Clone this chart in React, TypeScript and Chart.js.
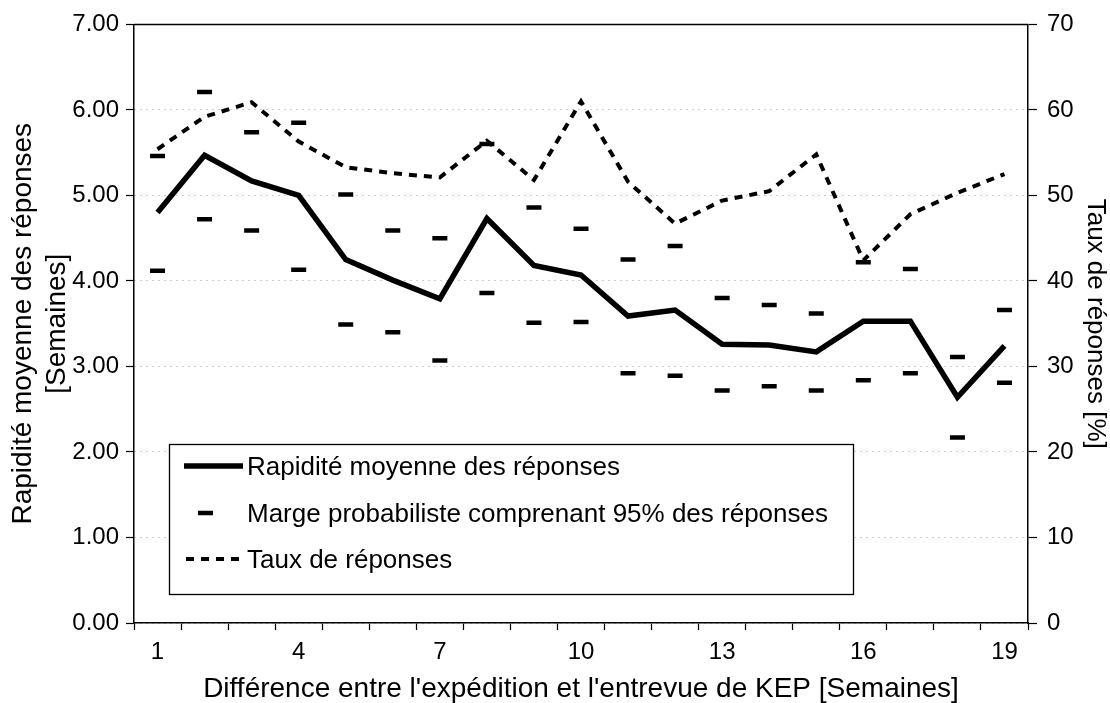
import { useEffect, useRef } from 'react';
import { Chart, registerables } from 'chart.js';

Chart.register(...registerables);

const FONT = "'Liberation Sans', Arial, Helvetica, sans-serif";

const CATEGORIES = ['1', '2', '3', '4', '5', '6', '7', '8', '9', '10', '11', '12', '13', '14', '15', '16', '17', '18', '19'];
const SPEED = [4.8, 5.47, 5.17, 5.0, 4.25, 4.01, 3.79, 4.73, 4.18, 4.07, 3.59, 3.66, 3.26, 3.25, 3.17, 3.53, 3.53, 2.64, 3.24];
const UPPER = [5.46, 6.21, 5.74, 5.85, 5.01, 4.59, 4.5, 5.6, 4.86, 4.61, 4.25, 4.41, 3.8, 3.72, 3.62, 4.22, 4.14, 3.11, 3.66];
const LOWER = [4.12, 4.72, 4.59, 4.13, 3.49, 3.4, 3.07, 3.86, 3.51, 3.52, 2.92, 2.89, 2.72, 2.77, 2.72, 2.84, 2.92, 2.17, 2.81];
const RATE = [55.4, 59.2, 60.9, 56.3, 53.3, 52.6, 52.1, 56.4, 51.8, 61.0, 51.6, 46.7, 49.4, 50.5, 54.8, 42.4, 47.8, 50.3, 52.5];

const LEGEND_LABELS = [
  'Rapidité moyenne des réponses',
  'Marge probabiliste comprenant 95% des réponses',
  'Taux de réponses',
];
const Y_TITLE = ['Rapidité moyenne des réponses', '[Semaines]'];
const Y2_TITLE = 'Taux de réponses [%]';
const X_TITLE = "Différence entre l'expédition et l'entrevue de KEP [Semaines]";

const boxLegend = {
  id: 'boxLegend',
  afterDatasetsDraw(chart: any) {
    const { ctx, chartArea } = chart;
    ctx.save();
    // top frame line
    ctx.strokeStyle = '#000';
    ctx.lineWidth = 1.5;
    ctx.beginPath();
    ctx.moveTo(chartArea.left, chartArea.top);
    ctx.lineTo(chartArea.right, chartArea.top);
    ctx.stroke();

    const bx = 169, by = 444, bw = 684, bh = 150;
    ctx.fillStyle = '#fff';
    ctx.fillRect(bx, by, bw, bh);
    ctx.lineWidth = 1.3;
    ctx.strokeStyle = '#000';
    ctx.strokeRect(bx + 0.5, by + 0.5, bw, bh);

    const rows = [466, 513, 559];
    const sx1 = 184, sx2 = 243;
    // solid
    ctx.setLineDash([]);
    ctx.lineWidth = 5.5;
    ctx.beginPath();
    ctx.moveTo(sx1, rows[0]);
    ctx.lineTo(sx2, rows[0]);
    ctx.stroke();
    // marker
    ctx.lineWidth = 4.5;
    ctx.beginPath();
    ctx.moveTo(198, rows[1]);
    ctx.lineTo(213, rows[1]);
    ctx.stroke();
    // dashed
    ctx.lineWidth = 4;
    ctx.setLineDash([8, 7]);
    ctx.beginPath();
    ctx.moveTo(186, rows[2]);
    ctx.lineTo(241, rows[2]);
    ctx.stroke();
    ctx.setLineDash([]);

    ctx.fillStyle = '#000';
    ctx.font = `26px ${FONT}`;
    ctx.textBaseline = 'middle';
    ctx.textAlign = 'left';
    LEGEND_LABELS.forEach((t, i) => ctx.fillText(t, 247, rows[i] + 2));
    ctx.restore();
  },
};

export default function App() {
  const ref = useRef<HTMLCanvasElement | null>(null);

  useEffect(() => {
    if (!ref.current) return;
    const chart = new Chart(ref.current, {
      type: 'line',
      data: {
        labels: CATEGORIES,
        datasets: [
          {
            label: LEGEND_LABELS[0],
            data: SPEED,
            borderColor: '#000',
            borderWidth: 5.5,
            pointRadius: 0,
            tension: 0,
            yAxisID: 'y',
          },
          {
            label: LEGEND_LABELS[1],
            data: UPPER,
            showLine: false,
            pointStyle: 'line',
            pointRadius: 7.5,
            pointBorderWidth: 4.5,
            borderColor: '#000',
            backgroundColor: '#000',
            yAxisID: 'y',
          },
          {
            label: LEGEND_LABELS[1] + ' (inf.)',
            data: LOWER,
            showLine: false,
            pointStyle: 'line',
            pointRadius: 7.5,
            pointBorderWidth: 4.5,
            borderColor: '#000',
            backgroundColor: '#000',
            yAxisID: 'y',
          },
          {
            label: LEGEND_LABELS[2],
            data: RATE,
            borderColor: '#000',
            borderWidth: 4,
            borderDash: [8, 7],
            pointRadius: 0,
            tension: 0,
            yAxisID: 'y2',
          },
        ],
      },
      options: {
        responsive: false,
        animation: false,
        layout: { padding: { top: 21, left: 0, right: 0, bottom: 0 } },
        plugins: {
          legend: { display: false },
          tooltip: { enabled: false },
        },
        scales: {
          x: {
            type: 'category',
            offset: true,
            afterFit(s: any) { s.height = 80; },
            grid: { drawOnChartArea: false, offset: true, tickLength: 7, tickColor: '#000', tickWidth: 1.2 },
            border: { display: true, color: '#000', width: 1.5 },
            ticks: {
              autoSkip: false,
              maxRotation: 0,
              padding: 8,
              color: '#000',
              font: { family: FONT, size: 24 },
              callback(_v: any, i: number) { return i % 3 === 0 ? CATEGORIES[i] : ''; },
            },
            title: {
              display: true,
              text: X_TITLE,
              color: '#000',
              font: { family: FONT, size: 28, lineHeight: 1 },
              padding: { top: 0, bottom: 0 },
            },
          },
          y: {
            position: 'left',
            min: 0,
            max: 7,
            afterFit(s: any) { s.width = 134; },
            grid: { color: '#9a9a9a', lineWidth: 1, tickLength: 8, tickColor: '#000', tickBorderDash: [], tickWidth: 1.2 },
            border: { display: true, color: '#000', width: 1.5, dash: [1, 5] },
            ticks: {
              stepSize: 1,
              padding: 7,
              color: '#000',
              font: { family: FONT, size: 24 },
              callback(v: any) { return Number(v).toFixed(2); },
            },
            title: {
              display: true,
              text: Y_TITLE,
              color: '#000',
              font: { family: FONT, size: 28, lineHeight: 1.22 },
              padding: { top: 6, bottom: 0 },
            },
          },
          y2: {
            position: 'right',
            min: 0,
            max: 70,
            afterFit(s: any) { s.width = 82; },
            grid: { drawOnChartArea: false, tickLength: 9, tickColor: '#000', tickWidth: 1.2 },
            border: { display: true, color: '#000', width: 1.5 },
            ticks: {
              stepSize: 10,
              padding: 10,
              color: '#000',
              font: { family: FONT, size: 24 },
            },
            title: {
              display: true,
              text: Y2_TITLE,
              color: '#000',
              font: { family: FONT, size: 26, lineHeight: 1 },
              padding: { top: 2, bottom: 0 },
            },
          },
        },
      },
      plugins: [boxLegend],
    });
    return () => chart.destroy();
  }, []);

  return (
    <div style={{ position: 'absolute', left: 0, top: 0, width: 1110, height: 703, background: '#fff' }}>
      <canvas ref={ref} width={1110} height={703} style={{ display: 'block' }} />
    </div>
  );
}
